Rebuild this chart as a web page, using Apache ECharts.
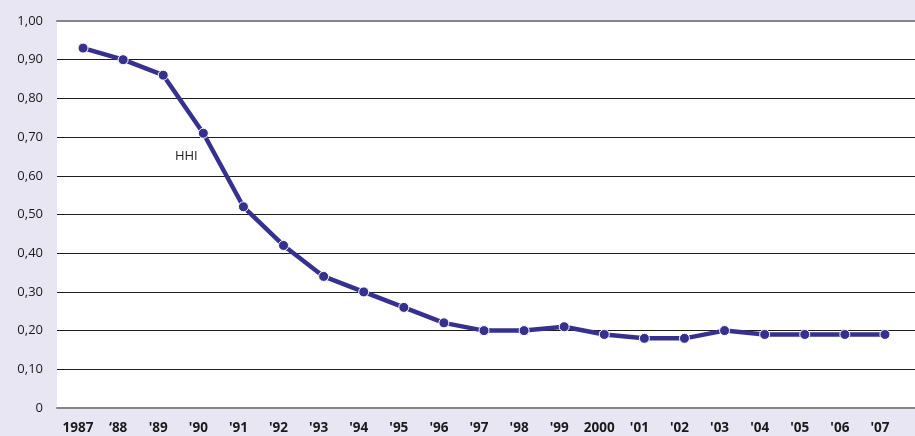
<!DOCTYPE html>
<html>
<head>
<meta charset="utf-8">
<script src="https://cdn.jsdelivr.net/npm/echarts@6/dist/echarts.min.js"></script>
<style>
  html, body { margin: 0; padding: 0; background: #e8e6f2; }
  #chart { width: 915px; height: 436px; }
</style>
</head>
<body>
<div id="chart"></div>
<script>
// years on the x axis
const years = ['1987', '\u201888', "'89", "'90", "'91", "'92", "'93", "'94", "'95", "'96", "'97",
  "'98", "'99", '2000', "'01", "'02", "'03", "'04", "'05", "'06", "'07"];
// HHI values
const hhi = [0.93, 0.90, 0.86, 0.71, 0.52, 0.42, 0.34, 0.30, 0.26, 0.22, 0.20,
  0.20, 0.21, 0.19, 0.18, 0.18, 0.20, 0.19, 0.19, 0.19, 0.19];
const seriesName = 'HHI';
const labelIndex = 3; // where the HHI name sits

const font = 'Open Sans';
const myChart = echarts.init(document.getElementById('chart'));

const option = {
  backgroundColor: '#e8e6f2',
  animation: false,
  grid: [
    { left: 57, right: 0, top: 21, bottom: 28, show: true, backgroundColor: '#fff', borderWidth: 0 },
    { left: 63, right: 10, top: 21, bottom: 28 }
  ],
  xAxis: [
    {
      gridIndex: 0, type: 'value', min: 0, max: 1,
      axisLine: { show: true, onZero: false, lineStyle: { color: '#858585', width: 2 } },
      axisTick: { show: false }, axisLabel: { show: false }, splitLine: { show: false }
    },
    {
      gridIndex: 0, type: 'value', position: 'top', min: 0, max: 1,
      axisLine: { show: true, onZero: false, lineStyle: { color: '#858585', width: 2 } },
      axisTick: { show: false }, axisLabel: { show: false }, splitLine: { show: false }
    },
    {
      gridIndex: 1, type: 'category', data: years, boundaryGap: true,
      axisLine: { show: false }, axisTick: { show: false },
      axisLabel: {
        interval: 0, margin: 13, color: '#1a1a1a', fontFamily: font,
        fontWeight: 'bold', fontSize: 13.5, padding: [0, 10, 0, 0]
      }
    }
  ],
  yAxis: [
    {
      gridIndex: 0, type: 'value', min: 0, max: 1, interval: 0.1,
      axisLine: { show: false }, axisTick: { show: false },
      axisLabel: {
        margin: 14, color: '#1a1a1a', fontFamily: font, fontSize: 13,
        formatter: v => (v === 0 ? '0' : v.toFixed(2).replace('.', ','))
      },
      splitLine: { lineStyle: { color: '#1e1e1e', width: 1 } }
    },
    {
      gridIndex: 1, type: 'value', min: 0, max: 1,
      axisLine: { show: false }, axisTick: { show: false },
      axisLabel: { show: false }, splitLine: { show: false }
    }
  ],
  series: [
    {
      name: seriesName,
      type: 'line',
      xAxisIndex: 2,
      yAxisIndex: 1,
      data: hhi.map((v, i) => i === labelIndex ? {
        value: v,
        label: {
          show: true, formatter: seriesName, position: 'bottom', offset: [-17, 6],
          color: '#222', fontFamily: font, fontSize: 13
        }
      } : v),
      symbol: 'circle',
      symbolSize: 10,
      lineStyle: { color: '#36318f', width: 4.5 },
      itemStyle: { color: '#36318f', borderColor: '#fff', borderWidth: 1 }
    }
  ]
};
myChart.setOption(option);
</script>
</body>
</html>
